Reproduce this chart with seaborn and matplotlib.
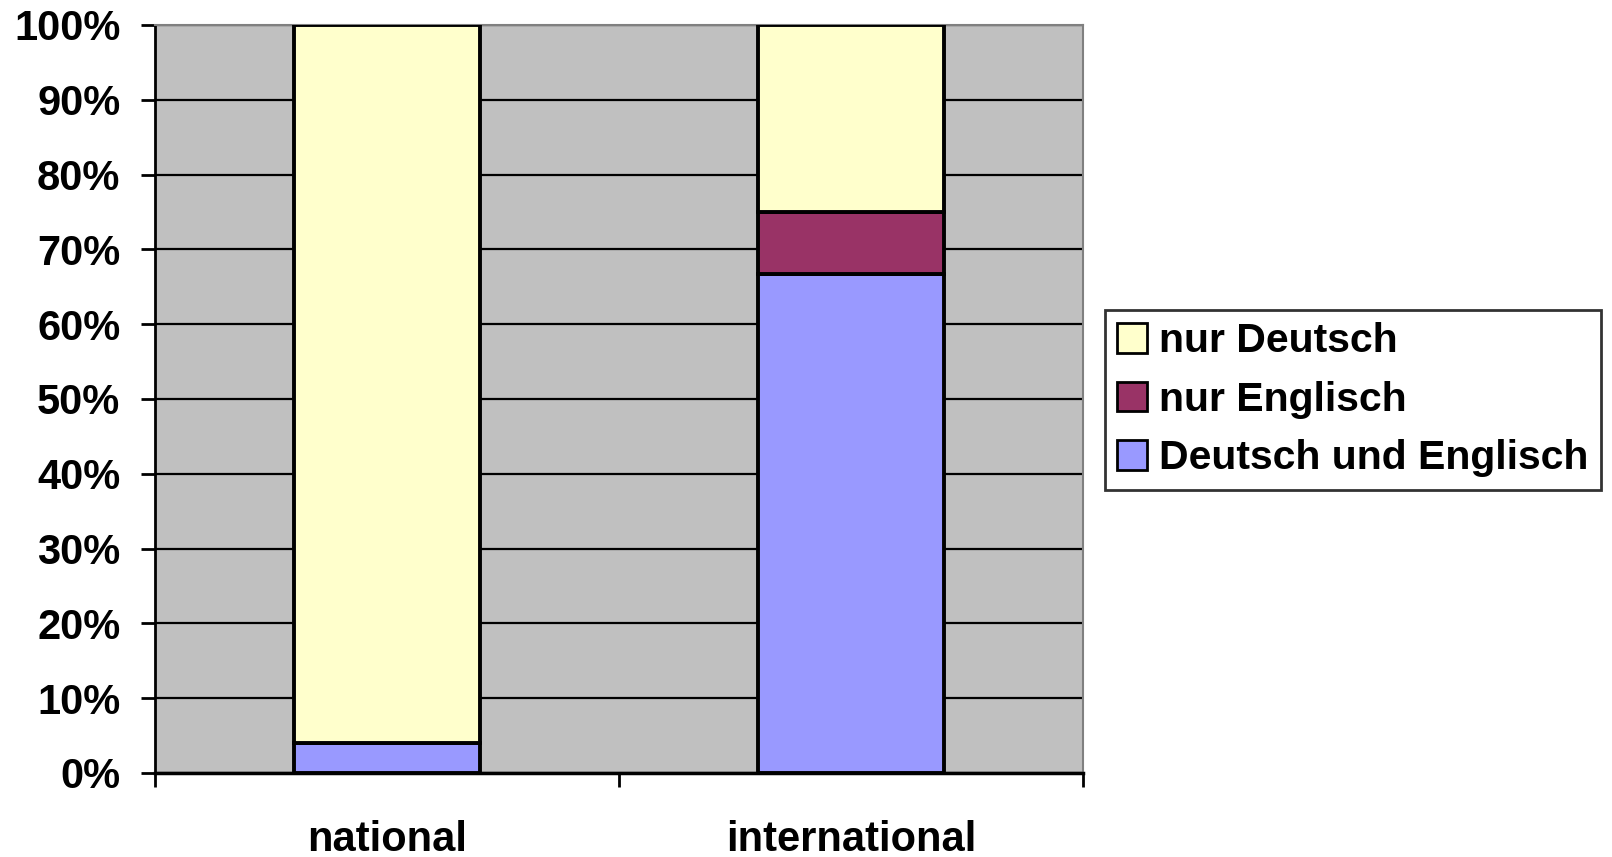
import numpy as np
import pandas as pd
import matplotlib
matplotlib.use("Agg")
import matplotlib.pyplot as plt
import seaborn as sns
from matplotlib.patches import Patch
from matplotlib.ticker import FixedLocator, PercentFormatter

categories = ["national", "international"]
deutsch_und_englisch = [4.0, 66.7]
nur_englisch = [0.0, 8.3]
nur_deutsch = [96.0, 25.0]

series = ["Deutsch und Englisch", "nur Englisch", "nur Deutsch"]
colors = ["#9999FF", "#993366", "#FFFFCC"]

df = pd.DataFrame({
    "kategorie": categories,
    "Deutsch und Englisch": deutsch_und_englisch,
    "nur Englisch": nur_englisch,
    "nur Deutsch": nur_deutsch,
})

sns.set_style("white")
plt.rcParams["font.family"] = ["Liberation Sans", "DejaVu Sans"]
plt.rcParams["font.weight"] = "bold"
plt.rcParams["text.color"] = "black"
plt.rcParams["xtick.color"] = "black"
plt.rcParams["ytick.color"] = "black"

fig = plt.figure(figsize=(16.12, 8.57), dpi=100)
ax = fig.add_axes([155 / 1612, 84 / 857, 928 / 1612, 748 / 857])
ax.set_facecolor("#C0C0C0")

bottom = np.zeros(len(categories))
for name, color in zip(series, colors):
    vals = df[name].to_numpy()
    mask = vals > 0
    sns.barplot(x=df["kategorie"][mask], y=vals[mask], bottom=bottom[mask], color=color,
                saturation=1, edgecolor="black", linewidth=2.8, width=0.4, ax=ax,
                order=categories, zorder=3)
    bottom = bottom + vals

ax.set_xlim(-0.5, 1.5)
ax.set_ylim(0, 100)
ax.set_yticks(np.arange(0, 101, 10))
ax.yaxis.set_major_formatter(PercentFormatter(decimals=0))
ax.yaxis.grid(True, color="black", linewidth=1.6, zorder=1)
ax.set_axisbelow(True)

ax.set_xticks([0, 1])
ax.set_xticklabels(categories)
ax.xaxis.set_minor_locator(FixedLocator([-0.5, 0.5, 1.5]))
ax.tick_params(axis="x", which="major", length=0, pad=34, labelsize=30, labelcolor="black")
ax.tick_params(axis="x", which="minor", length=10, width=2, direction="out", bottom=True,
               color="black")
ax.tick_params(axis="y", length=10, width=2, direction="out", left=True, labelsize=30,
               pad=15, labelcolor="black", color="black")
for lab in ax.get_xticklabels() + ax.get_yticklabels():
    lab.set_fontweight("bold")

ax.set_xlabel("")
ax.set_ylabel("")
for side in ["top", "right"]:
    ax.spines[side].set_color("#808080")
    ax.spines[side].set_linewidth(1.5)
ax.spines["left"].set_color("black")
ax.spines["left"].set_linewidth(2)
ax.spines["bottom"].set_color("black")
ax.spines["bottom"].set_linewidth(2.5)

handles = [Patch(facecolor=c, edgecolor="black", linewidth=2, label=n)
           for n, c in zip(series[::-1], colors[::-1])]
leg = fig.legend(handles=handles, loc="upper left", bbox_to_anchor=(1105 / 1612, 1 - 310 / 857),
                 frameon=True, fancybox=False, edgecolor="black",
                 prop={"weight": "bold", "size": 29.5}, handlelength=0.72, handleheight=0.72,
                 handletextpad=0.3, labelspacing=0.5, borderpad=0.3, borderaxespad=0)
leg.get_frame().set_linewidth(2)

fig.savefig("out.png", dpi=100)
